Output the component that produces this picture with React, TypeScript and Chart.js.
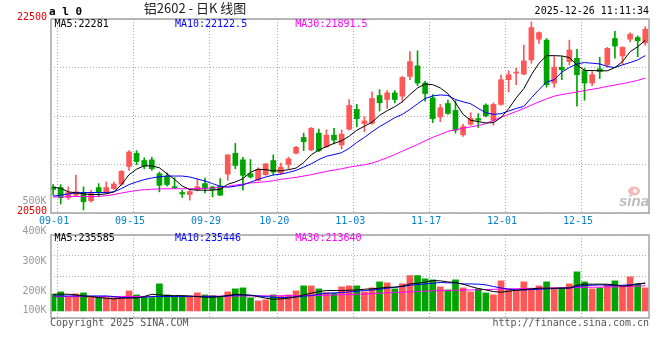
import React, { useEffect, useRef } from 'react';
import { Chart, registerables } from 'chart.js';

Chart.register(...registerables);

// ---------------- data ----------------
const DATES = [
  '09-01','09-02','09-03','09-04','09-05','09-08','09-09','09-10','09-11','09-12',
  '09-15','09-16','09-17','09-18','09-19','09-22','09-23','09-24','09-25','09-26',
  '09-29','09-30','10-09','10-10','10-13','10-14','10-15','10-16','10-17','10-20',
  '10-21','10-22','10-23','10-24','10-27','10-28','10-29','10-30','10-31','11-03',
  '11-04','11-05','11-06','11-07','11-10','11-11','11-12','11-13','11-14','11-17',
  '11-18','11-19','11-20','11-21','11-24','11-25','11-26','11-27','11-28','12-01',
  '12-02','12-03','12-04','12-05','12-08','12-09','12-10','12-11','12-12','12-15',
  '12-16','12-17','12-18','12-19','12-22','12-23','12-24','12-25','12-26',
];

const OPEN = [
  20769,20762,20660,20684,20711,20626,20762,20711,20752,20796,
  20980,21116,21041,21048,20905,20878,20769,20711,20691,20742,
  20803,20769,20779,20901,21116,21048,20905,20837,20895,21041,
  20912,21000,21116,21279,21150,21323,21184,21303,21201,21364,
  21568,21422,21425,21711,21670,21738,21704,21908,22017,21840,
  21687,21490,21629,21558,21306,21415,21473,21612,21456,21619,
  21874,21942,21932,22078,22292,22282,21840,22003,22061,22095,
  21966,21840,21986,22027,22299,22119,22292,22309,22255,
];
const HIGH = [
  20793,20793,20769,20891,20769,20735,20803,20820,20820,20939,
  21143,21143,21068,21075,20922,20912,20864,20735,20735,20850,
  20861,20776,20854,21102,21218,21075,21051,20966,21010,21099,
  21014,21075,21187,21323,21381,21364,21357,21374,21357,21670,
  21619,21493,21748,21772,21762,21762,21908,22163,22173,21857,
  21721,21619,21663,21660,21415,21534,21524,21626,21636,21925,
  21966,21993,22231,22469,22367,22299,22112,22112,22282,22187,
  21993,21959,22105,22207,22374,22214,22357,22326,22421,
];
const LOW = [
  20684,20592,20640,20674,20531,20612,20667,20701,20742,20786,
  20939,20997,20956,20939,20718,20776,20752,20660,20633,20728,
  20708,20667,20680,20837,20956,20735,20860,20830,20888,20895,
  20898,20956,21109,21143,21143,21133,21177,21211,21160,21354,
  21388,21337,21415,21551,21575,21636,21643,21874,21813,21653,
  21432,21442,21517,21323,21289,21405,21381,21490,21405,21612,
  21748,21823,21925,22044,22248,21796,21796,21874,22027,21602,
  21663,21813,21884,22003,22095,22034,22265,22110,22230,
];
const CLOSE = [
  20742,20657,20711,20718,20616,20701,20718,20762,20799,20929,
  21129,21031,20983,20956,20786,20793,20762,20697,20721,20772,
  20752,20742,20684,21099,20990,20888,20871,20949,21007,20922,
  20973,21058,21177,21235,21374,21143,21303,21252,21313,21609,
  21473,21449,21680,21636,21738,21670,21898,22061,21840,21731,
  21473,21585,21527,21354,21391,21476,21456,21500,21619,21874,
  21925,21952,22068,22411,22360,21823,22003,21976,22180,21925,
  21840,21925,21959,22197,22221,22207,22343,22275,22394,
];

const MA5 = [
  20765,20755,20718,20708,20697,20691,20691,20697,20718,20793,
  20895,20952,20986,20986,20966,20905,20847,20779,20742,20735,
  20735,20735,20745,20796,20820,20854,20920,20952,20946,20935,
  20935,20946,20963,21020,21099,21150,21184,21218,21245,21292,
  21354,21394,21435,21507,21554,21595,21646,21721,21789,21830,
  21823,21789,21730,21636,21517,21456,21442,21428,21432,21483,
  21575,21687,21782,21925,22044,22122,22122,22119,22102,22027,
  21969,21969,21966,21966,22000,22061,22163,22214,22281,
];
const MA10 = [
  20674,20684,20697,20708,20711,20711,20711,20711,20718,20752,
  20793,20820,20844,20861,20874,20881,20881,20881,20871,20850,
  20830,20803,20776,20765,20776,20789,20818,20847,20871,20891,
  20901,20918,20939,20973,21007,21051,21085,21102,21122,21167,
  21228,21279,21337,21391,21435,21483,21517,21568,21626,21680,
  21707,21717,21712,21670,21646,21626,21578,21534,21517,21524,
  21551,21578,21598,21687,21772,21850,21874,21952,22000,22037,
  22051,22044,22037,22010,22000,22027,22051,22078,22122.5,
];
const MA30 = [
  20665,20665,20668,20670,20672,20668,20672,20678,20690,20706,
  20720,20732,20740,20745,20748,20750,20750,20750,20750,20752,
  20754,20758,20765,20775,20788,20798,20810,20816,20823,20833,
  20847,20857,20867,20881,20895,20912,20929,20942,20956,20973,
  20986,20997,21014,21041,21070,21102,21138,21173,21206,21244,
  21280,21310,21342,21357,21374,21388,21401,21422,21456,21486,
  21517,21547,21578,21612,21646,21677,21704,21721,21734,21748,
  21762,21775,21789,21806,21819,21833,21850,21867,21891.5,
];

const VOLUME = [
  141700,161500,119000,144500,153000,119000,113000,113000,113000,113000,
  170000,136000,113000,113000,229500,136000,119000,119000,119000,153000,
  136000,130000,119000,161500,187000,195500,110500,85000,93500,136000,
  124700,136000,170000,212500,212500,187000,156000,150000,204000,212500,
  212500,161500,195500,246500,238000,187000,229500,300000,300000,272000,
  263500,204000,178500,263500,195500,161500,187000,153000,136000,255000,
  187000,178500,246500,187000,212500,246500,187000,195500,229500,331500,
  246500,187000,195500,221000,255000,212500,289000,229500,195500,
];
const VOL_MA5 = [
  141600,141600,141600,136000,127000,122000,113000,108000,102000,108000,
  110000,110000,122000,141600,136000,130000,130000,130000,127000,122000,
  116000,116000,122000,130000,141600,136000,133000,122000,108000,99000,
  102000,108000,119000,136000,150000,164000,173000,173000,173000,176000,
  178000,184000,187000,193000,201000,201000,210000,229000,235000,244000,
  258000,255000,246000,241000,227000,207000,190000,178000,164000,159000,
  167000,176000,181000,187000,193000,193000,193000,193000,195000,218000,
  227000,227000,227000,227000,221000,210000,215000,229000,235585,
];
const VOL_MA10 = [
  127000,127000,127000,127000,127000,127000,127000,127000,122000,113000,
  113000,113000,116000,122000,122000,122000,122000,122000,122000,122000,
  122000,122000,122000,127000,133000,136000,133000,127000,122000,116000,
  113000,116000,119000,125000,130000,142000,150000,153000,156000,161000,
  167000,173000,178000,184000,193000,201000,207000,218000,224000,229000,
  235000,241000,238000,238000,229000,229000,227000,221000,207000,195000,
  184000,178000,178000,181000,184000,187000,190000,193000,193000,207000,
  215000,218000,221000,218000,215000,218000,221000,227000,235446,
];
const VOL_MA30 = [
  122000,122000,121500,121500,122000,122000,122000,122500,122500,122500,
  123000,123000,123000,123000,123500,123500,124000,124000,124500,124500,
  125000,125500,126000,126000,126500,127000,127000,127500,128000,128500,
  129000,129000,129500,129500,130000,131000,133000,135000,137000,139000,
  141000,143000,146000,150000,153000,156000,159000,162000,165000,168000,
  170000,172000,174000,175000,177000,178000,180000,182000,183000,185000,
  187000,188000,190000,191000,192000,193000,195000,196000,197000,198000,
  200000,201000,202000,203000,204000,206000,208000,210000,213640,
];

const X_TICK_DATES = ['09-01','09-15','09-29','10-20','11-03','11-17','12-01','12-15'];
const PRICE_LABELS = [22500, 20500];
const VOL_LABELS = [500000, 400000, 300000, 200000, 100000];

const TITLE = '铝2602 - 日K 线图';
const SYMBOL = 'a l 0';
const TIMESTAMP = '2025-12-26 11:11:34';
const COPYRIGHT = 'Copyright 2025 SINA.COM';
const URL_TEXT = 'http://finance.sina.com.cn';

// ---------------- styles ----------------
const RED = '#ff5656';
const GREEN = '#00a400';
const GRID = '#ababab';
const FRAME = '#a4a4a4';
const MONO = "'DejaVu Sans Mono', monospace";
const C_MA5 = '#000000';
const C_MA10 = '#0000ff';
const C_MA30 = '#ff00ff';

const N = CLOSE.length;
const TICK_IDX = X_TICK_DATES.map((d) => DATES.indexOf(d));
const COLORS = CLOSE.map((c, i) => (c >= OPEN[i] ? RED : GREEN));
const X_MIN = -0.28;
const X_MAX = N - 1 + 0.49;
const GRID_SHIFT = 0.59;

const VOL_MIN = -60000;
const VOL_MAX = 644000;

const xAxis = (labels: boolean) => ({
  type: 'linear' as const,
  min: X_MIN,
  max: X_MAX,
  offset: false,
  afterBuildTicks: (s: any) => {
    s.ticks = TICK_IDX.map((i) => ({ value: i + GRID_SHIFT }));
  },
  afterFit: (s: any) => {
    s.height = labels ? 20 : 0;
  },
  ticks: {
    display: labels,
    autoSkip: false,
    maxRotation: 0,
    padding: 2,
    labelOffset: -3.5,
    color: '#0a80d0',
    font: { family: MONO, size: 10 },
    callback: (_v: any, k: number) => X_TICK_DATES[k],
  },
  grid: { color: GRID, lineWidth: 1, drawTicks: false, offset: false },
  border: { display: false, dash: [1, 2] },
});

const lineDs = (label: string, arr: number[], color: string) => ({
  type: 'line' as const,
  label,
  data: arr.map((v, i) => ({ x: i, y: v })),
  borderColor: color,
  borderWidth: 1,
  pointRadius: 0,
  tension: 0,
  order: 0,
});

const framePlugin = {
  id: 'frame',
  afterDraw(chart: any) {
    const { ctx, chartArea: ca } = chart;
    ctx.save();
    ctx.strokeStyle = FRAME;
    ctx.lineWidth = 1.5;
    ctx.strokeRect(ca.left, ca.top, ca.right - ca.left, ca.bottom - ca.top);
    ctx.restore();
  },
};

const maLabels = (ctx: any, ca: any, y: number, items: [string, string][]) => {
  ctx.font = `10px ${MONO}`;
  ctx.textAlign = 'left';
  ctx.textBaseline = 'middle';
  items.forEach(([t, c], k) => {
    ctx.fillStyle = c;
    ctx.fillText(t, ca.left + 3.5 + k * 120.4, y);
  });
};

const mainTextPlugin = {
  id: 'mainText',
  afterDraw(chart: any) {
    const { ctx, chartArea: ca } = chart;
    ctx.save();
    maLabels(ctx, ca, ca.top + 5, [
      [`MA5:${MA5[N - 1]}`, C_MA5],
      [`MA10:${MA10[N - 1]}`, C_MA10],
      [`MA30:${MA30[N - 1]}`, C_MA30],
    ]);
    ctx.textBaseline = 'middle';
    ctx.fillStyle = '#000';
    ctx.font = `bold 11px ${MONO}`;
    ctx.textAlign = 'left';
    ctx.fillText(SYMBOL, ca.left - 2, 12);
    ctx.font = `13px 'Noto Sans CJK SC', sans-serif`;
    ctx.textAlign = 'center';
    ctx.fillStyle = '#222';
    ctx.fillText(TITLE, 195, 8);
    ctx.font = `10px ${MONO}`;
    ctx.textAlign = 'right';
    ctx.fillStyle = '#000';
    ctx.fillText(TIMESTAMP, ca.right, 11);
    // sina watermark
    ctx.fillStyle = 'rgba(244,160,160,0.75)';
    ctx.beginPath();
    ctx.ellipse(ca.right - 15, ca.bottom - 22, 6, 4.5, 0, 0, Math.PI * 2);
    ctx.fill();
    ctx.fillStyle = '#fff';
    ctx.beginPath();
    ctx.arc(ca.right - 14, ca.bottom - 22, 2, 0, Math.PI * 2);
    ctx.fill();
    ctx.font = `italic bold 15px 'Liberation Sans', sans-serif`;
    ctx.textAlign = 'center';
    ctx.fillStyle = 'rgba(175,175,175,0.85)';
    ctx.fillText('sina', ca.right - 15, ca.bottom - 11);
    ctx.restore();
  },
};

const volTextPlugin = {
  id: 'volText',
  afterDraw(chart: any) {
    const { ctx, chartArea: ca } = chart;
    ctx.save();
    maLabels(ctx, ca, ca.top + 3.5, [
      [`MA5:${VOL_MA5[N - 1]}`, C_MA5],
      [`MA10:${VOL_MA10[N - 1]}`, C_MA10],
      [`MA30:${VOL_MA30[N - 1]}`, C_MA30],
    ]);
    ctx.font = `10px ${MONO}`;
    ctx.textAlign = 'right';
    ctx.fillStyle = '#999';
    VOL_LABELS.forEach((v) => {
      let y = ca.top - 4 + ((400000 - v) * 30) / 100000;
      y = Math.min(y, ca.bottom - 8);
      ctx.fillText(`${v / 1000}K`, ca.left - 4.5, y);
    });
    ctx.fillStyle = '#555';
    ctx.textAlign = 'left';
    ctx.fillText(COPYRIGHT, ca.left - 1, ca.bottom + 5);
    ctx.textAlign = 'right';
    ctx.fillText(URL_TEXT, ca.right, ca.bottom + 5);
    ctx.restore();
  },
};

export default function App() {
  const mainRef = useRef<HTMLCanvasElement>(null);
  const volRef = useRef<HTMLCanvasElement>(null);

  useEffect(() => {
    const main = new Chart(mainRef.current as HTMLCanvasElement, {
      type: 'bar',
      data: {
        datasets: [
          lineDs('MA5', MA5, C_MA5),
          lineDs('MA10', MA10, C_MA10),
          lineDs('MA30', MA30, C_MA30),
          {
            type: 'bar',
            label: 'body',
            data: OPEN.map((o, i) => ({ x: i, y: [o, CLOSE[i]] })),
            backgroundColor: COLORS,
            barThickness: 5,
            minBarLength: 1,
            grouped: false,
            order: 1,
          } as any,
          {
            type: 'bar',
            label: 'wick',
            data: LOW.map((l, i) => ({ x: i, y: [l, HIGH[i]] })),
            backgroundColor: COLORS,
            barThickness: 1,
            grouped: false,
            order: 2,
          } as any,
        ],
      },
      options: {
        responsive: false,
        animation: false,
        events: [],
        layout: { padding: { left: 0, top: 19, right: 11, bottom: 127 } },
        plugins: { legend: { display: false }, tooltip: { enabled: false } },
        scales: {
          x: xAxis(true) as any,
          y: {
            type: 'linear',
            min: 20500,
            max: 22500,
            afterFit: (s: any) => {
              s.width = 51;
            },
            ticks: {
              stepSize: 500,
              padding: 4,
              labelOffset: -2,
              color: '#e00000',
              font: { family: MONO, size: 10 },
              callback: (v: any) => (PRICE_LABELS.includes(Number(v)) ? String(v) : ''),
            },
            grid: { color: GRID, drawTicks: false },
            border: { display: false, dash: [1, 2] },
          } as any,
        },
      },
      plugins: [framePlugin, mainTextPlugin],
    });

    const vol = new Chart(volRef.current as HTMLCanvasElement, {
      type: 'bar',
      data: {
        datasets: [
          lineDs('MA5', VOL_MA5, C_MA5),
          lineDs('MA10', VOL_MA10, C_MA10),
          lineDs('MA30', VOL_MA30, C_MA30),
          {
            type: 'bar',
            label: 'volume',
            data: VOLUME.map((v, i) => ({ x: i, y: v })),
            backgroundColor: COLORS,
            barThickness: 6,
            grouped: false,
            order: 1,
          } as any,
        ],
      },
      options: {
        responsive: false,
        animation: false,
        events: [],
        layout: { padding: { left: 0, top: 235, right: 11, bottom: 42 } },
        plugins: { legend: { display: false }, tooltip: { enabled: false } },
        scales: {
          x: xAxis(false) as any,
          y: {
            type: 'linear',
            min: VOL_MIN,
            max: VOL_MAX,
            afterFit: (s: any) => {
              s.width = 51;
            },
            afterBuildTicks: (s: any) => {
              s.ticks = [0, 1, 2, 3, 4].map((k) => ({ value: s.min + ((s.max - s.min) * k) / 4 }));
            },
            ticks: { display: false },
            grid: { color: GRID, drawTicks: false },
            border: { display: false, dash: [1, 2] },
          } as any,
        },
      },
      plugins: [framePlugin, volTextPlugin],
    });

    return () => {
      main.destroy();
      vol.destroy();
    };
  }, []);

  return (
    <div style={{ position: 'fixed', left: 0, top: 0, width: 660, height: 360, background: '#fff' }}>
      <canvas ref={mainRef} width={660} height={360} style={{ position: 'absolute', left: 0, top: 0 }} />
      <canvas ref={volRef} width={660} height={360} style={{ position: 'absolute', left: 0, top: 0 }} />
    </div>
  );
}
